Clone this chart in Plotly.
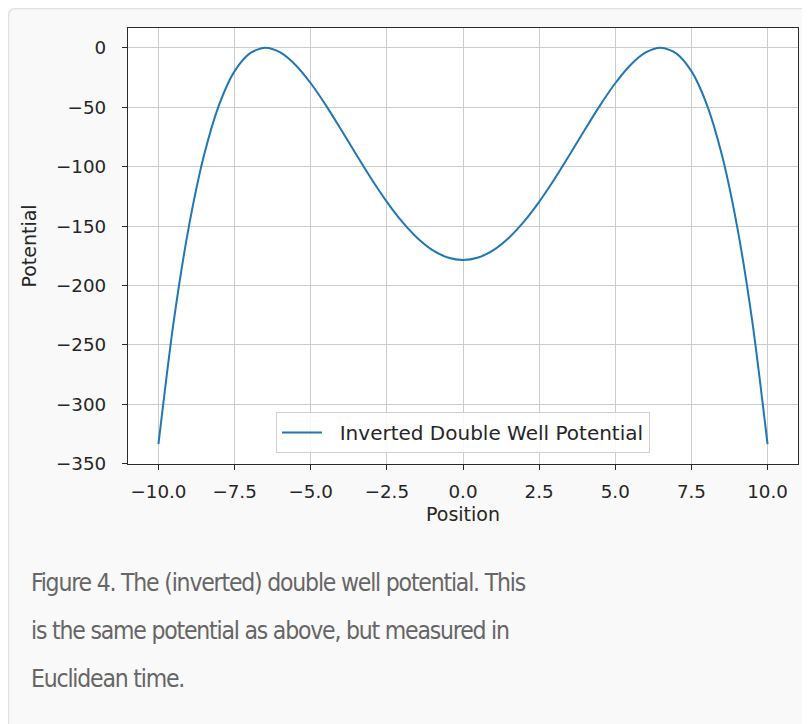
import plotly.graph_objects as go

# Data
position = [-10.0, -9.5, -9.0, -8.5, -8.0, -7.5, -7.0, -6.5, -6.0, -5.5, -5.0,
            -4.5, -4.0, -3.5, -3.0, -2.5, -2.0, -1.5, -1.0, -0.5, 0.0,
            0.5, 1.0, 1.5, 2.0, 2.5, 3.0, 3.5, 4.0, 4.5, 5.0,
            5.5, 6.0, 6.5, 7.0, 7.5, 8.0, 8.5, 9.0, 9.5, 10.0]
potential = [-333.5, -230.4, -150.2, -90.0, -47.3, -19.6, -4.6, 0.0, -3.9, -14.4, -29.8,
             -48.4, -68.9, -90.0, -110.6, -129.6, -146.3, -160.0, -170.2, -176.4, -178.5,
             -176.4, -170.2, -160.0, -146.3, -129.6, -110.6, -90.0, -68.9, -48.4, -29.8,
             -14.4, -3.9, 0.0, -4.6, -19.6, -47.3, -90.0, -150.2, -230.4, -333.5]

x_tickvals = [-10.0, -7.5, -5.0, -2.5, 0.0, 2.5, 5.0, 7.5, 10.0]
x_ticktext = ["\u221210.0", "\u22127.5", "\u22125.0", "\u22122.5", "0.0", "2.5", "5.0", "7.5", "10.0"]
y_tickvals = [0, -50, -100, -150, -200, -250, -300, -350]
y_ticktext = ["0", "\u221250", "\u2212100", "\u2212150", "\u2212200", "\u2212250", "\u2212300", "\u2212350"]

series_name = "Inverted Double Well Potential"
caption_lines = [
    "Figure 4. The (inverted) double well potential. This",
    "is the same potential as above, but measured in",
    "Euclidean time.",
]

# The page places the figure 8px from the top-left corner of the window
W, H = 802, 716
ML, MR, MT, MB = 120, 12, 20, 260
PW = W - ML - MR
PH = H - MT - MB


def px_x(px):
    return (px - ML) / PW


def px_y(py):
    return (H - MB - py) / PH


fig = go.Figure()
fig.add_trace(go.Scatter(
    x=position, y=potential, mode="lines",
    name="\u00a0\u00a0" + series_name,
    line=dict(color="#1f77b4", width=2, shape="spline", smoothing=0.8),
))

TXT = "#262626"
axis_common = dict(
    showline=True, mirror=True, linecolor="#2a2a2a", linewidth=1.3,
    ticks="outside", ticklen=5, tickwidth=1.2, tickcolor="#2a2a2a",
    showgrid=True, gridcolor="#cccccc", gridwidth=1, zeroline=False,
    tickfont=dict(family="DejaVu Sans", size=18.3, color=TXT),
)

fig.update_xaxes(
    range=[-11.0, 11.0], tickvals=x_tickvals, ticktext=x_ticktext,
    ticklabelstandoff=6,
    title=dict(text="Position", font=dict(family="DejaVu Sans", size=19, color=TXT), standoff=6),
    **axis_common,
)
fig.update_yaxes(
    range=[-350.2, 16.7], tickvals=y_tickvals, ticktext=y_ticktext,
    ticklabelstandoff=12,
    title=dict(text="Potential", font=dict(family="DejaVu Sans", size=19, color=TXT), standoff=14),
    **axis_common,
)

# card border (rounded top-left corner)
r = 8
x0, y0 = px_x(0.5), px_y(0.5)
x1, y1 = px_x(830), px_y(740)
rx, ry = r / PW, r / PH
path = (f"M {x0},{y1} L {x0},{y0 - ry} Q {x0},{y0} {x0 + rx},{y0} "
        f"L {x1},{y0}")
shapes = [dict(type="path", xref="paper", yref="paper", path=path,
               line=dict(color="#e2e2e2", width=1.5), layer="below")]

annotations = []
line_centers = [574, 622, 670]
for txt, cy in zip(caption_lines, line_centers):
    annotations.append(dict(
        text=f'<span style="letter-spacing:-1.2px">{txt}</span>',
        xref="paper", yref="paper", x=px_x(21), y=px_y(cy),
        xanchor="left", yanchor="middle", showarrow=False,
        font=dict(family="DejaVu Sans Condensed, DejaVu Sans", size=24.5, color="#666666"),
    ))

fig.update_layout(
    width=W, height=H,
    margin=dict(l=ML, r=MR, t=MT, b=MB, autoexpand=False),
    paper_bgcolor="#f9f9f9", plot_bgcolor="#ffffff",
    showlegend=True,
    legend=dict(
        x=0.5, y=0.025, xanchor="center", yanchor="bottom",
        bgcolor="rgba(255,255,255,0.85)", bordercolor="#d0d0d0", borderwidth=1,
        font=dict(family="DejaVu Sans", size=20, color=TXT),
        itemwidth=40,
    ),
    shapes=shapes,
    annotations=annotations,
)

fig.write_html("out.html")
